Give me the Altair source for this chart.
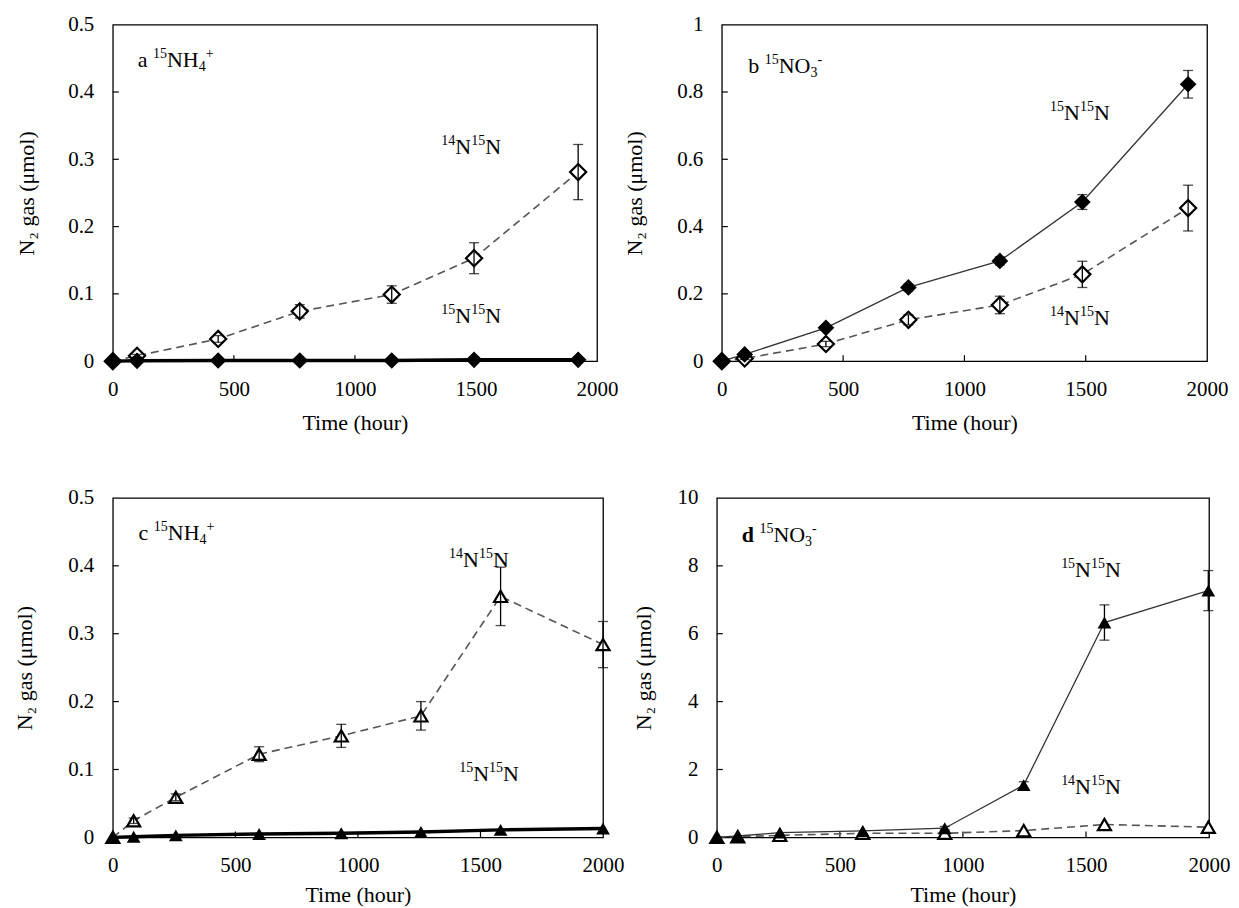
import altair as alt
import pandas as pd

FONT = "Liberation Serif"

# ---------------- data ----------------
# panel a: 15NH4+ , diamonds
a_time = [0, 100, 435, 772, 1152, 1492, 1922]
a_1415 = [0, 0.008, 0.033, 0.074, 0.099, 0.153, 0.281]
a_1415_err = [0, 0.002, 0.005, 0.010, 0.013, 0.023, 0.041]
a_1515 = [0, 0.0005, 0.001, 0.001, 0.001, 0.002, 0.002]
a_1515_err = [0, 0, 0, 0, 0, 0, 0]

# panel b: 15NO3- , diamonds
b_time = [0, 94, 429, 769, 1146, 1486, 1922]
b_1515 = [0, 0.020, 0.099, 0.219, 0.298, 0.473, 0.823]
b_1515_err = [0, 0.003, 0.006, 0.010, 0.012, 0.022, 0.041]
b_1415 = [0, 0.008, 0.051, 0.123, 0.167, 0.258, 0.455]
b_1415_err = [0, 0.003, 0.008, 0.015, 0.026, 0.039, 0.068]

# panel c: 15NH4+ , triangles
c_time = [0, 85, 257, 597, 932, 1257, 1582, 2000]
c_1415 = [0, 0.0245, 0.059, 0.1225, 0.1495, 0.179, 0.355, 0.284]
c_1415_err = [0, 0.004, 0.005, 0.011, 0.017, 0.021, 0.043, 0.034]
c_1515 = [0, 0.001, 0.003, 0.005, 0.006, 0.008, 0.011, 0.013]
c_1515_err = [0, 0, 0, 0, 0, 0, 0, 0]

# panel d: 15NO3- , triangles
d_time = [0, 85, 256, 593, 926, 1247, 1575, 1997]
d_1515 = [0, 0.04, 0.14, 0.19, 0.27, 1.54, 6.33, 7.27]
d_1515_err = [0, 0, 0, 0, 0.05, 0.10, 0.52, 0.59]
d_1415 = [0, 0.02, 0.06, 0.12, 0.12, 0.20, 0.38, 0.30]
d_1415_err = [0, 0, 0, 0, 0, 0, 0, 0]

x_ticks = [0, 500, 1000, 1500, 2000]
a_yticks = [0, 0.1, 0.2, 0.3, 0.4, 0.5]
b_yticks = [0, 0.2, 0.4, 0.6, 0.8, 1.0]
c_yticks = [0, 0.1, 0.2, 0.3, 0.4, 0.5]
d_yticks = [0, 2, 4, 6, 8, 10]

# rich-text labels: list of (text, style); style n=normal, sup, sub, b=bold
L1415 = [("14", "sup"), ("N", "n"), ("15", "sup"), ("N", "n")]
L1515 = [("15", "sup"), ("N", "n"), ("15", "sup"), ("N", "n")]
LNH4 = [("15", "sup"), ("NH", "n"), ("4", "sub"), ("+", "sup")]
LNO3 = [("15", "sup"), ("NO", "n"), ("3", "sub"), ("-", "sup")]

# annotations: (time, value, pieces)
a_notes = [(103, 0.447, [("a ", "n")] + LNH4), (1357, 0.318, L1415), (1357, 0.067, L1515)]
b_notes = [(109, 0.877, [("b ", "n")] + LNO3), (1353, 0.739, L1515), (1353, 0.128, L1415)]
c_notes = [(105, 0.449, [("c ", "n")] + LNH4), (1372, 0.409, L1415), (1413, 0.093, L1515)]
d_notes = [(101, 8.92, [("d ", "b")] + LNO3), (1399, 7.89, L1515), (1399, 1.49, L1415)]

MAIN = 22
SMALL = 14
EM = {"0": .5, "1": .5, "2": .5, "3": .5, "4": .5, "5": .5, "6": .5, "7": .5, "8": .5,
      "9": .5, "N": .722, "H": .722, "O": .722, "a": .444, "b": .5, "c": .444, "d": .556,
      " ": .25, "+": .564, "-": .333}
STYLE = {"n": (MAIN, 0, "normal"), "b": (MAIN, 0, "bold"), "sup": (SMALL, -6, "normal"),
         "sub": (SMALL, 7, "normal")}


def series_df(time, vals, errs):
    df = pd.DataFrame({"t": time, "y": vals, "err": errs})
    df["lo"] = df["y"] - df["err"]
    df["hi"] = df["y"] + df["err"]
    return df


def panel(time, v14, e14, v15, e15, yticks, shape, thick15, notes, w, h, title_x, title_y,
          msize):
    ymax = yticks[-1]
    xs = alt.Scale(domain=[0, 2000], nice=False, zero=False)
    ys = alt.Scale(domain=[0, ymax], nice=False)
    common = dict(labelFont=FONT, labelFontSize=21, labelColor="black",
                  titleFont=FONT, titleFontSize=22, titleFontWeight="normal",
                  titleColor="black", tickSize=0, grid=False, domain=False,
                  labelFlush=False)
    xax = alt.Axis(values=x_ticks, format="d", title="Time (hour)", titleY=title_y,
                   titleBaseline="middle", labelPadding=17, **common)
    yax = alt.Axis(values=yticks, format="~r", title="N\u2082 gas (\u03bcmol)", titleX=title_x,
                   titleY=h / 2, titleAngle=270, titleBaseline="middle",
                   labelPadding=19, **common)

    def X(f):
        return alt.X(f, type="quantitative", scale=xs, axis=xax)

    def Y(f):
        return alt.Y(f, type="quantitative", scale=ys, axis=yax)

    d14 = series_df(time, v14, e14)
    d15 = series_df(time, v15, e15)

    layers = []
    # inward tick marks
    ytk = pd.DataFrame({"y": yticks[1:-1]})
    xtk = pd.DataFrame({"t": x_ticks[1:-1]})
    layers.append(alt.Chart(ytk).mark_rule(color="black", strokeWidth=1.2).encode(
        y=Y("y"), x=alt.value(0), x2=alt.value(6)))
    layers.append(alt.Chart(xtk).mark_rule(color="black", strokeWidth=1.2).encode(
        x=X("t"), y=alt.value(h), y2=alt.value(h - 6)))

    # 14N15N: dashed grey line, open markers
    layers.append(alt.Chart(d14).mark_line(color="#555555", strokeWidth=1.6,
                                           strokeDash=[8, 5]).encode(x=X("t"), y=Y("y")))
    # 15N15N: solid line, filled markers
    if thick15:
        layers.append(alt.Chart(d15).mark_line(color="black", strokeWidth=3.4).encode(
            x=X("t"), y=Y("y")))
    else:
        layers.append(alt.Chart(d15).mark_line(color="#333333", strokeWidth=1.3).encode(
            x=X("t"), y=Y("y")))

    layers.append(alt.Chart(d14).mark_point(shape=shape, filled=False, fill="white",
                                            fillOpacity=1, color="black", strokeWidth=2.2,
                                            size=msize, opacity=1).encode(x=X("t"), y=Y("y")))
    layers.append(alt.Chart(d15).mark_point(shape=shape, filled=True, color="black",
                                            size=msize + 20, opacity=1).encode(x=X("t"), y=Y("y")))

    # error bars
    for dd in (d14, d15):
        base = alt.Chart(dd).transform_filter("datum.err > 0")
        layers.append(base.mark_rule(color="black", strokeWidth=1.3).encode(
            x=X("t"), y=Y("lo"), y2="hi"))
        layers.append(base.mark_tick(color="black", orient="horizontal", size=10,
                                     thickness=1.3).encode(x=X("t"), y=Y("lo")))
        layers.append(base.mark_tick(color="black", orient="horizontal", size=10,
                                     thickness=1.3).encode(x=X("t"), y=Y("hi")))

    # rich-text annotations
    for (tt, yy, pieces) in notes:
        off = 0.0
        for (txt, st) in pieces:
            fs, dy, fw = STYLE[st]
            nd = pd.DataFrame({"t": [tt], "y": [yy], "label": [txt]})
            layers.append(alt.Chart(nd).mark_text(
                align="left", baseline="middle", font=FONT, fontSize=fs, fontWeight=fw,
                color="black", dx=off, dy=dy).encode(x=X("t"), y=Y("y"), text="label:N"))
            off += sum(EM.get(ch, 0.5) for ch in txt) * fs

    return alt.layer(*layers).properties(width=w, height=h)


pa = panel(a_time, a_1415, a_1415_err, a_1515, a_1515_err, a_yticks, "diamond", True,
           a_notes, 485, 337, -86, 61, 260)
pb = panel(b_time, b_1415, b_1415_err, b_1515, b_1515_err, b_yticks, "diamond", False,
           b_notes, 486, 337, -87, 61, 260)
pc = panel(c_time, c_1415, c_1415_err, c_1515, c_1515_err, c_yticks, "triangle-up", True,
           c_notes, 491, 340, -88, 57, 170)
pd_ = panel(d_time, d_1415, d_1415_err, d_1515, d_1515_err, d_yticks, "triangle-up", False,
            d_notes, 493, 340, -73, 57, 170)

top = alt.hconcat(pa, pb, spacing=4)
bottom = alt.hconcat(pc, pd_, spacing=7)
chart = alt.vconcat(top, bottom, spacing=52).properties(
    padding={"left": 5, "top": 4, "right": 0, "bottom": 0},
    background="white",
).configure_view(stroke="black", strokeWidth=1.3)

chart.save("out.html", embed_options={"renderer": "svg", "actions": False})
